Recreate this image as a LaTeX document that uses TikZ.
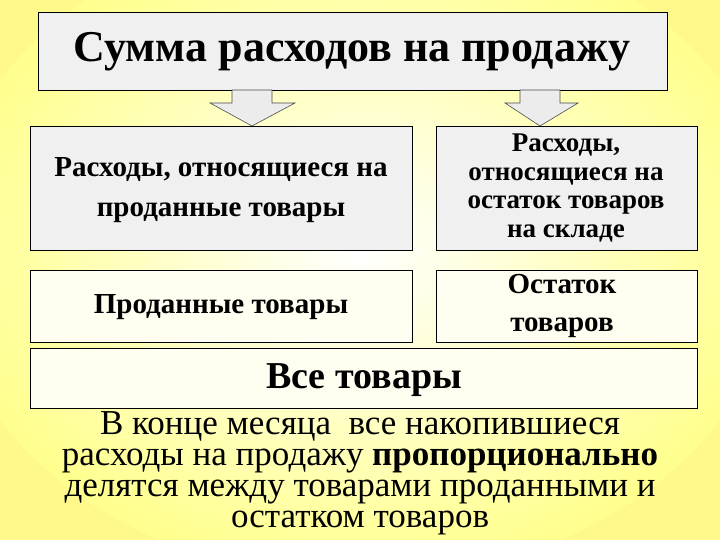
\documentclass[tikz,border=0pt]{standalone}
\usepackage{fontspec}
\setmainfont{Liberation Serif}
\begin{document}
\begin{tikzpicture}[x=1pt,y=-1pt,
  gbox/.style={draw=black,line width=0.8pt,fill=gray!12},
  bbox/.style={draw=black,line width=0.8pt,fill=orange!8!yellow!6},
  arr/.style={draw=black!70,line width=0.6pt,fill=gray!15}]
\useasboundingbox (0,0) rectangle (720,540);
\fill[yellow!45] (0,0) rectangle (720,540);
\begin{scope}
\clip (0,0) rectangle (720,540);
\shade[inner color=white,outer color=yellow!45] (360,250) ellipse (420 and 330);
\end{scope}
\fill[gbox] (38,12) rectangle (667,90);
\node[font=\bfseries\fontsize{44}{48}\selectfont] (t) at (352,52) {Сумма расходов на продажу};
\draw[arr] (232,90) -- (272,90) -- (272,103) -- (295,103) -- (252,126) -- (210,103) -- (232,103) -- cycle;
\draw[arr] (520,90) -- (560,90) -- (560,103) -- (578,103) -- (540,126) -- (505,103) -- (520,103) -- cycle;
\fill[gbox] (30,126) rectangle (412,250);
\fill[gbox] (436,126) rectangle (697,250);
\node[font=\bfseries\fontsize{29}{40}\selectfont,align=center] (a) at (221,190) {Расходы, относящиеся на\\проданные товары};
\node[font=\bfseries\fontsize{27}{28.5}\selectfont,align=center] (b) at (566,188) {Расходы,\\относящиеся на\\остаток товаров\\на складе};
\fill[bbox] (30,270) rectangle (412,342);
\fill[bbox] (436,270) rectangle (697,342);
\fill[bbox] (30,348) rectangle (697,408);
\node[font=\bfseries\fontsize{29}{30}\selectfont] (c) at (221,307) {Проданные товары};
\node[font=\bfseries\fontsize{29}{38}\selectfont,align=center] (d) at (562,306) {Остаток\\товаров};
\node[font=\bfseries\fontsize{38}{40}\selectfont] (e) at (364,380) {Все товары};
\node[font=\fontsize{35}{31}\selectfont,align=center] (f) at (360,473) {В конце месяца\ \ все накопившиеся\\расходы на продажу \textbf{пропорционально}\\делятся между товарами проданными и\\остатком товаров};
\end{tikzpicture}
\end{document}
